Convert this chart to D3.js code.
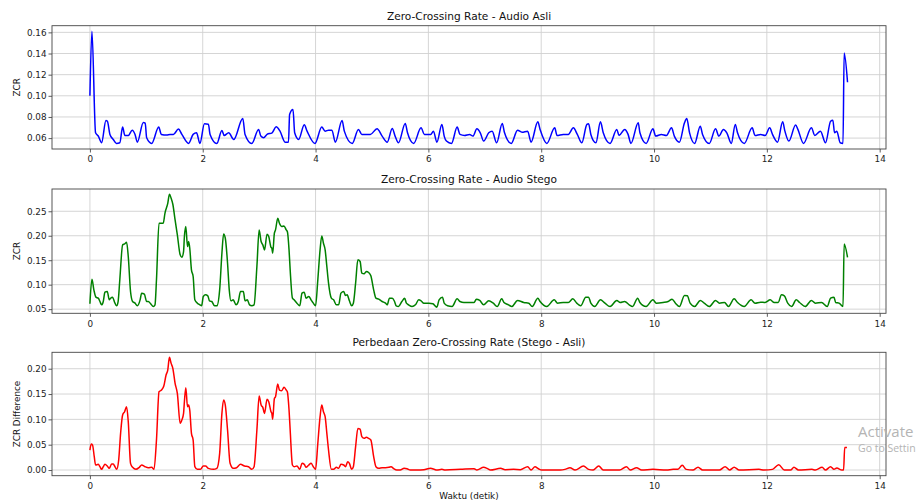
<!DOCTYPE html>
<html>
<head>
<meta charset="utf-8">
<script src="https://cdn.jsdelivr.net/npm/d3@7"></script>
<style>
  html, body { margin: 0; padding: 0; background: #fff; }
  svg { display: block; font-family: "DejaVu Sans", sans-serif; }
</style>
</head>
<body>
<div id="chart"></div>
<script>
// time (s) ticks shared by all panels
const timeTicks = [0, 2, 4, 6, 8, 10, 12, 14];

const ticksAsli = [0.06, 0.08, 0.10, 0.12, 0.14, 0.16];
const ticksStego = [0.05, 0.10, 0.15, 0.20, 0.25];
const ticksDiff = [0.00, 0.05, 0.10, 0.15, 0.20];

// [time, zcr]
const zcrAsli = [
  [0, 0.100], [0.036, 0.161], [0.10, 0.065], [0.148, 0.062], [0.207, 0.0556], [0.284, 0.0767], [0.31, 0.076],
  [0.355, 0.0635], [0.414, 0.0587], [0.47, 0.055], [0.53, 0.0556], [0.58, 0.0704], [0.62, 0.0625], [0.68, 0.0625],
  [0.75, 0.0675], [0.80, 0.0635], [0.84, 0.0562], [0.947, 0.0748], [0.98, 0.0742], [1.006, 0.0603], [1.095, 0.055],
  [1.22, 0.0704], [1.266, 0.0635], [1.36, 0.0629], [1.42, 0.0635], [1.48, 0.0635], [1.57, 0.0685], [1.63, 0.0635],
  [1.75, 0.055], [1.83, 0.0635], [1.89, 0.065], [1.95, 0.055], [2.03, 0.0735], [2.10, 0.0732], [2.13, 0.0635],
  [2.25, 0.055], [2.34, 0.0672], [2.38, 0.0625], [2.46, 0.065], [2.55, 0.0587], [2.71, 0.0786], [2.75, 0.0635],
  [2.87, 0.055], [2.99, 0.0682], [3.03, 0.0619], [3.08, 0.0603], [3.14, 0.0635], [3.23, 0.065], [3.30, 0.0707],
  [3.37, 0.0666], [3.46, 0.0562], [3.52, 0.0562], [3.54, 0.0823], [3.60, 0.087], [3.63, 0.065], [3.70, 0.0587],
  [3.80, 0.0726], [3.85, 0.0666], [3.99, 0.055], [4.11, 0.0704], [4.17, 0.0666], [4.23, 0.0675], [4.29, 0.0675],
  [4.35, 0.0562], [4.47, 0.0767], [4.51, 0.0666], [4.65, 0.055], [4.76, 0.0682], [4.82, 0.0635], [4.97, 0.0635],
  [5.09, 0.0688], [5.18, 0.0619], [5.27, 0.0562], [5.36, 0.0691], [5.41, 0.0619], [5.47, 0.0556], [5.59, 0.0738],
  [5.63, 0.065], [5.74, 0.055], [5.87, 0.0697], [5.93, 0.0635], [6.04, 0.0635], [6.09, 0.0666], [6.15, 0.0562],
  [6.24, 0.0729], [6.28, 0.0619], [6.32, 0.0572], [6.41, 0.055], [6.51, 0.0704], [6.56, 0.0635], [6.64, 0.0625],
  [6.73, 0.0635], [6.79, 0.0619], [6.86, 0.0688], [6.92, 0.065], [6.98, 0.0572], [7.07, 0.065], [7.13, 0.0666],
  [7.21, 0.0556], [7.31, 0.0738], [7.35, 0.065], [7.47, 0.055], [7.58, 0.0675], [7.66, 0.0656], [7.76, 0.0666],
  [7.82, 0.0562], [7.94, 0.0754], [7.98, 0.0682], [8.10, 0.055], [8.24, 0.0697], [8.28, 0.0625], [8.39, 0.0635],
  [8.48, 0.0635], [8.57, 0.0697], [8.64, 0.0635], [8.72, 0.0556], [8.81, 0.0729], [8.84, 0.0735], [8.88, 0.0635],
  [8.97, 0.0556], [9.05, 0.0754], [9.10, 0.065], [9.22, 0.055], [9.34, 0.0682], [9.38, 0.0625], [9.48, 0.0682],
  [9.54, 0.0635], [9.59, 0.055], [9.72, 0.0745], [9.75, 0.065], [9.86, 0.055], [9.98, 0.0688], [10.03, 0.0619],
  [10.13, 0.0635], [10.22, 0.0625], [10.31, 0.0697], [10.36, 0.0619], [10.45, 0.0562], [10.54, 0.0745],
  [10.58, 0.0786], [10.63, 0.065], [10.72, 0.055], [10.82, 0.0713], [10.86, 0.0635], [10.98, 0.055],
  [11.09, 0.0688], [11.15, 0.0619], [11.23, 0.0682], [11.29, 0.065], [11.37, 0.055], [11.44, 0.0729],
  [11.48, 0.065], [11.60, 0.055], [11.74, 0.0697], [11.79, 0.0625], [11.89, 0.0635], [11.97, 0.0625],
  [12.05, 0.0697], [12.10, 0.0635], [12.19, 0.0562], [12.28, 0.0754], [12.32, 0.0666], [12.39, 0.0572],
  [12.51, 0.0723], [12.55, 0.0682], [12.65, 0.055], [12.79, 0.0697], [12.85, 0.0625], [12.95, 0.0666],
  [13.04, 0.0556], [13.13, 0.076], [13.17, 0.077], [13.20, 0.065], [13.24, 0.0666], [13.30, 0.0556],
  [13.35, 0.055], [13.37, 0.1405], [13.43, 0.1128]
];

const zcrStego = [
  [0, 0.061], [0.036, 0.111], [0.07, 0.0895], [0.107, 0.0745], [0.148, 0.0724], [0.178, 0.0656], [0.207, 0.0588],
  [0.237, 0.0656], [0.266, 0.0847], [0.308, 0.0861], [0.343, 0.069], [0.367, 0.0724], [0.40, 0.0745],
  [0.444, 0.0622], [0.473, 0.0568], [0.50, 0.0656], [0.53, 0.110], [0.58, 0.1813], [0.615, 0.1833], [0.65, 0.1867],
  [0.68, 0.1575], [0.72, 0.0861], [0.757, 0.0656], [0.80, 0.0622], [0.84, 0.0568], [0.89, 0.069], [0.917, 0.0827],
  [0.965, 0.0806], [1.006, 0.0656], [1.036, 0.0656], [1.077, 0.0609], [1.124, 0.0554], [1.154, 0.0588],
  [1.18, 0.110], [1.225, 0.2255], [1.30, 0.2255], [1.33, 0.2459], [1.38, 0.2663], [1.41, 0.2847], [1.44, 0.2766],
  [1.47, 0.2643], [1.51, 0.2323], [1.55, 0.2017], [1.60, 0.1609], [1.63, 0.1561], [1.66, 0.1677], [1.675, 0.1983],
  [1.70, 0.2187], [1.73, 0.1779], [1.75, 0.1881], [1.77, 0.1745], [1.80, 0.1303], [1.83, 0.1167], [1.86, 0.069],
  [1.905, 0.0622], [1.95, 0.0588], [1.98, 0.0568], [2.01, 0.0759], [2.05, 0.0793], [2.09, 0.0772], [2.12, 0.067],
  [2.16, 0.0656], [2.21, 0.0568], [2.25, 0.0568], [2.30, 0.0895], [2.34, 0.1643], [2.37, 0.2037], [2.40, 0.1949],
  [2.44, 0.1439], [2.47, 0.0895], [2.50, 0.067], [2.54, 0.069], [2.59, 0.0588], [2.63, 0.0656], [2.67, 0.0861],
  [2.72, 0.0861], [2.75, 0.067], [2.79, 0.069], [2.83, 0.0588], [2.87, 0.0568], [2.91, 0.0588], [2.96, 0.1371],
  [3.0, 0.2119], [3.035, 0.1881], [3.065, 0.1813], [3.095, 0.1711], [3.14, 0.2031], [3.17, 0.1983],
  [3.21, 0.1765], [3.225, 0.1745], [3.24, 0.1643], [3.27, 0.2051], [3.29, 0.2119], [3.33, 0.2357], [3.36, 0.2255],
  [3.40, 0.2187], [3.44, 0.2201], [3.48, 0.2119], [3.50, 0.2085], [3.53, 0.1711], [3.55, 0.1303], [3.59, 0.0724],
  [3.62, 0.069], [3.67, 0.0622], [3.72, 0.0568], [3.76, 0.0827], [3.80, 0.0847], [3.83, 0.0724], [3.88, 0.0759],
  [3.92, 0.069], [3.96, 0.0622], [4.0, 0.0568], [4.04, 0.1099], [4.08, 0.1711], [4.11, 0.1997], [4.14, 0.1847],
  [4.17, 0.1711], [4.20, 0.1371], [4.23, 0.1031], [4.28, 0.0724], [4.32, 0.069], [4.37, 0.0588], [4.41, 0.0588],
  [4.45, 0.0827], [4.50, 0.0861], [4.53, 0.0779], [4.56, 0.0793], [4.60, 0.067], [4.64, 0.0568], [4.67, 0.0622],
  [4.71, 0.1031], [4.75, 0.1507], [4.79, 0.1473], [4.82, 0.1235], [4.86, 0.1221], [4.90, 0.1269], [4.94, 0.1248],
  [4.98, 0.118], [5.03, 0.0895], [5.07, 0.0724], [5.12, 0.0704], [5.18, 0.0656], [5.24, 0.0622], [5.27, 0.0588],
  [5.31, 0.0724], [5.36, 0.0724], [5.40, 0.0656], [5.43, 0.0568], [5.47, 0.0554], [5.53, 0.0656], [5.58, 0.0724],
  [5.61, 0.0622], [5.65, 0.0588], [5.71, 0.0554], [5.77, 0.0588], [5.83, 0.069], [5.87, 0.067], [5.92, 0.0622],
  [6.01, 0.0622], [6.08, 0.0609], [6.15, 0.0541], [6.19, 0.069], [6.25, 0.0745], [6.28, 0.0622], [6.34, 0.0568],
  [6.42, 0.0554], [6.51, 0.0711], [6.56, 0.0656], [6.63, 0.0636], [6.72, 0.0636], [6.81, 0.0636], [6.85, 0.0704],
  [6.91, 0.0677], [6.98, 0.0588], [7.07, 0.067], [7.15, 0.0622], [7.22, 0.0554], [7.30, 0.0711], [7.34, 0.0636],
  [7.42, 0.0588], [7.48, 0.0554], [7.58, 0.0677], [7.69, 0.0636], [7.78, 0.0622], [7.84, 0.0554], [7.94, 0.0724],
  [7.98, 0.0656], [8.10, 0.0554], [8.23, 0.069], [8.29, 0.0622], [8.39, 0.0636], [8.48, 0.0636], [8.56, 0.0711],
  [8.63, 0.0622], [8.70, 0.0568], [8.79, 0.0745], [8.84, 0.0745], [8.88, 0.0622], [8.95, 0.0554], [9.05, 0.069],
  [9.13, 0.0622], [9.22, 0.0554], [9.34, 0.0677], [9.40, 0.0636], [9.48, 0.0656], [9.56, 0.0588], [9.62, 0.0554],
  [9.71, 0.0724], [9.75, 0.0636], [9.86, 0.0554], [9.98, 0.069], [10.04, 0.0622], [10.16, 0.0636], [10.25, 0.0656],
  [10.32, 0.0704], [10.38, 0.0622], [10.45, 0.0554], [10.54, 0.0779], [10.59, 0.0772], [10.64, 0.0622],
  [10.72, 0.0554], [10.82, 0.0677], [10.89, 0.0622], [10.98, 0.0554], [11.09, 0.0677], [11.16, 0.0622],
  [11.25, 0.0636], [11.32, 0.0554], [11.42, 0.0711], [11.48, 0.0636], [11.60, 0.0554], [11.72, 0.069],
  [11.79, 0.0622], [11.89, 0.0643], [11.97, 0.0636], [12.06, 0.069], [12.13, 0.0636], [12.20, 0.0636],
  [12.26, 0.0793], [12.31, 0.0772], [12.37, 0.0622], [12.44, 0.0554], [12.52, 0.069], [12.58, 0.0636],
  [12.68, 0.0554], [12.79, 0.0677], [12.86, 0.0622], [12.97, 0.0636], [13.07, 0.0554], [13.13, 0.0724],
  [13.19, 0.0745], [13.22, 0.0636], [13.28, 0.0622], [13.35, 0.0554], [13.37, 0.1833], [13.43, 0.156]
];

const zcrDiff = [
  [0, 0.0395], [0.024, 0.0513], [0.047, 0.0493], [0.077, 0.0263], [0.10, 0.0099], [0.148, 0.0112], [0.178, 0.0066],
  [0.207, 0.0013], [0.237, 0.0066], [0.266, 0.0112], [0.308, 0.0079], [0.343, 0.0033], [0.385, 0.0118],
  [0.414, 0.0118], [0.444, 0.0066], [0.473, 0.0013], [0.51, 0.0197], [0.544, 0.0724], [0.58, 0.1086],
  [0.615, 0.1151], [0.65, 0.125], [0.68, 0.0954], [0.72, 0.0132], [0.757, 0.0053], [0.817, 0.0013],
  [0.876, 0.0053], [0.917, 0.0099], [0.976, 0.0066], [1.036, 0.0046], [1.095, 0.0053], [1.136, 0.0013],
  [1.18, 0.0592], [1.225, 0.1546], [1.27, 0.1579], [1.31, 0.1658], [1.35, 0.1875], [1.38, 0.1974], [1.41, 0.2224],
  [1.44, 0.2105], [1.47, 0.2007], [1.51, 0.1711], [1.55, 0.1513], [1.60, 0.0921], [1.63, 0.0987], [1.66, 0.1118],
  [1.675, 0.1349], [1.70, 0.1625], [1.73, 0.125], [1.75, 0.1283], [1.77, 0.1184], [1.80, 0.0724], [1.83, 0.0592],
  [1.86, 0.0066], [1.905, 0.0013], [1.96, 0.0013], [2.01, 0.0079], [2.05, 0.0079], [2.10, 0.0033], [2.19, 0.0013],
  [2.25, 0.0033], [2.30, 0.0329], [2.34, 0.1118], [2.37, 0.1382], [2.40, 0.1283], [2.44, 0.0789], [2.485, 0.0132],
  [2.54, 0.0033], [2.60, 0.0046], [2.67, 0.0112], [2.74, 0.0079], [2.81, 0.0066], [2.87, 0.0013], [2.91, 0.0066],
  [2.96, 0.0789], [3.0, 0.1461], [3.035, 0.1283], [3.065, 0.1237], [3.095, 0.1118], [3.14, 0.1395], [3.17, 0.1349],
  [3.21, 0.1151], [3.225, 0.1118], [3.24, 0.1], [3.27, 0.1414], [3.29, 0.1447], [3.33, 0.1697], [3.36, 0.1579],
  [3.40, 0.1566], [3.44, 0.1632], [3.48, 0.1579], [3.50, 0.1546], [3.53, 0.1184], [3.55, 0.0789], [3.59, 0.0099],
  [3.62, 0.0066], [3.67, 0.0079], [3.72, 0.0013], [3.76, 0.0132], [3.80, 0.0112], [3.83, 0.0053], [3.88, 0.0099],
  [3.92, 0.0132], [3.96, 0.0066], [4.0, 0.0013], [4.04, 0.0526], [4.08, 0.1053], [4.11, 0.1283], [4.14, 0.1151],
  [4.17, 0.1053], [4.20, 0.0724], [4.23, 0.0395], [4.28, 0.0013], [4.32, 0.0013], [4.37, 0.0053], [4.41, 0.0033],
  [4.45, 0.0112], [4.50, 0.0099], [4.53, 0.0066], [4.57, 0.0164], [4.60, 0.0132], [4.64, 0.0013], [4.67, 0.0066],
  [4.71, 0.0461], [4.75, 0.0822], [4.79, 0.0809], [4.82, 0.0658], [4.86, 0.0625], [4.90, 0.0645], [4.94, 0.0625],
  [4.98, 0.0592], [5.03, 0.0263], [5.07, 0.0066], [5.12, 0.0033], [5.18, 0.0046], [5.24, 0.0046], [5.30, 0.0053],
  [5.34, 0.0066], [5.38, 0.0033], [5.44, 0], [5.50, 0], [5.57, 0.0033], [5.62, 0.0026], [5.68, 0], [5.80, 0],
  [5.92, 0.0007], [6.04, 0.0033], [6.09, 0.002], [6.15, 0], [6.24, 0.0013], [6.30, 0], [6.57, 0.0013],
  [6.81, 0.0026], [6.86, 0], [6.98, 0.0053], [7.04, 0.0033], [7.10, 0], [7.28, 0.0033], [7.36, 0.0007],
  [7.51, 0.0013], [7.63, 0.0007], [7.76, 0.0066], [7.82, 0], [7.89, 0.0066], [7.95, 0.0026], [8.01, 0], [8.34, 0],
  [8.42, 0.0013], [8.51, 0.0046], [8.60, 0], [8.75, 0.0079], [8.84, 0.0013], [8.92, 0], [9.02, 0.0079], [9.10, 0],
  [9.39, 0], [9.51, 0.0066], [9.58, 0], [9.69, 0.0046], [9.78, 0], [9.98, 0.0013], [10.22, 0], [10.34, 0.0013],
  [10.42, 0.0013], [10.50, 0.0092], [10.57, 0.0013], [10.69, 0], [10.78, 0.0053], [10.86, 0], [11.16, 0],
  [11.26, 0.0066], [11.34, 0], [11.42, 0.0053], [11.51, 0], [11.86, 0.0013], [11.95, 0], [12.10, 0.0013],
  [12.21, 0.0105], [12.31, 0], [12.42, 0], [12.48, 0.0053], [12.56, 0], [12.80, 0.0013], [12.86, 0],
  [12.98, 0.0053], [13.04, 0], [13.13, 0.0066], [13.19, 0.0013], [13.24, 0.0039], [13.33, 0], [13.36, 0],
  [13.38, 0.0447], [13.42, 0.0447]
];

const W = 919;
const H = 501;
const plotLeft = 52;
const plotRight = 886;

const svg = d3.select('#chart')
  .append('svg')
  .attr('width', W)
  .attr('height', H);

const x = d3.scaleLinear()
  .domain([-0.672, 14.112])
  .range([plotLeft, plotRight]);

function renderPanel(opts) {
  const { id, data, color, title, yLabel, ticks, fmt, domain, top, bottom } = opts;

  const y = d3.scaleLinear().domain(domain).range([bottom, top]);
  const g = svg.append('g').attr('class', 'panel-' + id);

  // grid
  g.append('g').selectAll('line.vgrid')
    .data(timeTicks)
    .join('line')
    .attr('x1', d => x(d)).attr('x2', d => x(d))
    .attr('y1', top).attr('y2', bottom)
    .attr('stroke', '#d0d0d0').attr('stroke-width', 0.9);

  g.append('g').selectAll('line.hgrid')
    .data(ticks)
    .join('line')
    .attr('x1', plotLeft).attr('x2', plotRight)
    .attr('y1', d => y(d)).attr('y2', d => y(d))
    .attr('stroke', '#d0d0d0').attr('stroke-width', 0.9);

  g.append('clipPath').attr('id', 'clip-' + id)
    .append('rect')
    .attr('x', plotLeft).attr('y', top)
    .attr('width', plotRight - plotLeft).attr('height', bottom - top);

  const line = d3.line()
    .x(d => x(d[0]))
    .y(d => y(d[1]))
    .curve(d3.curveMonotoneX);

  g.append('path')
    .datum(data)
    .attr('clip-path', `url(#clip-${id})`)
    .attr('fill', 'none')
    .attr('stroke', color)
    .attr('stroke-width', 1.5)
    .attr('stroke-linejoin', 'round')
    .attr('d', line);

  // axes
  const xAxis = g.append('g')
    .attr('transform', `translate(0,${bottom})`)
    .call(d3.axisBottom(x).tickValues(timeTicks).tickFormat(d3.format('d')).tickSize(3.5).tickPadding(3.5).tickSizeOuter(0));

  const yAxis = g.append('g')
    .attr('transform', `translate(${plotLeft},0)`)
    .call(d3.axisLeft(y).tickValues(ticks).tickFormat(fmt).tickSize(3.5).tickPadding(2).tickSizeOuter(0));

  [xAxis, yAxis].forEach(a => {
    a.select('.domain').remove();
    a.selectAll('line').attr('stroke', '#333').attr('stroke-width', 0.8);
    a.selectAll('text').attr('fill', '#222').style('font-size', '8.8px').style('font-family', '"DejaVu Sans", sans-serif');
  });

  // frame
  g.append('rect')
    .attr('x', plotLeft).attr('y', top)
    .attr('width', plotRight - plotLeft).attr('height', bottom - top)
    .attr('fill', 'none')
    .attr('stroke', '#444')
    .attr('stroke-width', 0.9);

  g.append('text')
    .attr('x', (plotLeft + plotRight) / 2)
    .attr('y', top - 6)
    .attr('text-anchor', 'middle')
    .attr('fill', '#111')
    .style('font-size', '10.6px')
    .text(title);

  g.append('text')
    .attr('transform', `translate(20,${(top + bottom) / 2}) rotate(-90)`)
    .attr('text-anchor', 'middle')
    .attr('fill', '#111')
    .style('font-size', '8.8px')
    .text(yLabel);
}

renderPanel({
  id: 'asli', data: zcrAsli, color: '#0000ff',
  title: 'Zero-Crossing Rate - Audio Asli', yLabel: 'ZCR',
  ticks: ticksAsli, fmt: d3.format('.2f'), domain: [0.0497, 0.1663], top: 25.7, bottom: 149
});

renderPanel({
  id: 'stego', data: zcrStego, color: '#008000',
  title: 'Zero-Crossing Rate - Audio Stego', yLabel: 'ZCR',
  ticks: ticksStego, fmt: d3.format('.2f'), domain: [0.0415, 0.2955], top: 189, bottom: 313.3
});

renderPanel({
  id: 'diff', data: zcrDiff, color: '#ff0000',
  title: 'Perbedaan Zero-Crossing Rate (Stego - Asli)', yLabel: 'ZCR Difference',
  ticks: ticksDiff, fmt: d3.format('.2f'), domain: [-0.0112, 0.2324], top: 352.3, bottom: 475.7
});

svg.append('text')
  .attr('x', (plotLeft + plotRight) / 2)
  .attr('y', 499)
  .attr('text-anchor', 'middle')
  .attr('fill', '#111')
  .style('font-size', '8.8px')
  .text('Waktu (detik)');

// windows watermark from the screenshot
svg.append('text')
  .attr('x', 858).attr('y', 437)
  .attr('fill', '#b4b4b4')
  .style('font-family', '"Open Sans", sans-serif')
  .style('font-size', '15px')
  .text('Activate');

svg.append('text')
  .attr('x', 858).attr('y', 452)
  .attr('fill', '#b4b4b4')
  .style('font-family', '"Open Sans", sans-serif')
  .style('font-size', '10.5px')
  .text('Go to Settin');
</script>
</body>
</html>
